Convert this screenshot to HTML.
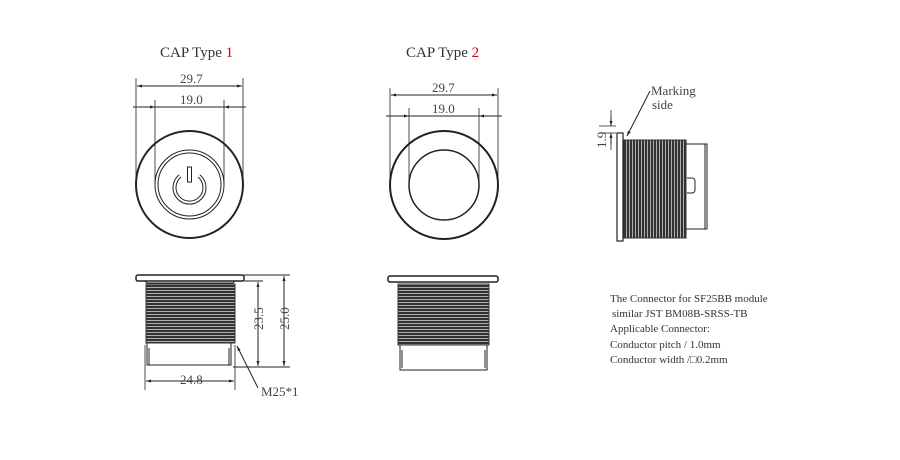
<!DOCTYPE html>
<html><head><style>body{margin:0;background:#fff}svg{display:block}</style></head><body>
<svg width="900" height="460" viewBox="0 0 900 460" xmlns="http://www.w3.org/2000/svg" font-family="Liberation Serif, serif">
<defs>
<marker id="a" viewBox="0 0 10 10" refX="10" refY="5" markerWidth="8" markerHeight="5" orient="auto-start-reverse"><path d="M0,2L10,5L0,8z" fill="#222"/></marker>
<pattern id="th" width="6" height="3" patternUnits="userSpaceOnUse"><rect width="6" height="3" fill="#bbb"/><rect y="0" width="6" height="2.1" fill="#333"/></pattern>
<pattern id="tv" width="3" height="6" patternUnits="userSpaceOnUse"><rect width="3" height="6" fill="#bbb"/><rect x="0" width="2.1" height="6" fill="#333"/></pattern>
</defs>
<g fill="#333" font-size="15"><text x="160" y="57">CAP Type <tspan fill="#c00">1</tspan></text>
<text x="406" y="57">CAP Type <tspan fill="#c00">2</tspan></text></g>
<g stroke="#222" fill="none" stroke-width="1">
<circle cx="189.5" cy="184.5" r="53.5" stroke-width="2"/>
<circle cx="189.5" cy="184.5" r="34.5" stroke-width="1"/>
<circle cx="189.5" cy="184.5" r="31.5" stroke-width="1"/>
<path d="M180,176 A15,15 0 1 0 199,176" stroke-width="4"/>
<path d="M180,176 A15,15 0 1 0 199,176" stroke="#fff" stroke-width="2"/>
<rect x="187.5" y="167" width="4" height="15" fill="#fff" stroke-width="1"/>
<path d="M136,78V184M243,78V184M155,100V184M224,100V184" stroke-width=".8"/>
<path d="M137,86H242" marker-start="url(#a)" marker-end="url(#a)"/>
<path d="M133,107H246"/><path d="M144,107H155" marker-end="url(#a)"/><path d="M235,107H224" marker-end="url(#a)"/>
<circle cx="444" cy="185" r="54" stroke-width="2"/>
<circle cx="444" cy="185" r="35" stroke-width="1.5"/>
<path d="M390,88V185M498,88V185M409,108V185M479,108V185" stroke-width=".8"/>
<path d="M391,95H497" marker-start="url(#a)" marker-end="url(#a)"/>
<path d="M386,116H502"/><path d="M398,116H409" marker-end="url(#a)"/><path d="M490,116H479" marker-end="url(#a)"/>
<rect x="136" y="275" width="108" height="6" rx="2" stroke-width="1.5"/>
<path d="M145,281L147,283H233L235,281"/>
<rect x="146" y="284" width="89" height="59" fill="url(#th)" stroke="#333"/>
<path d="M147,343V365H231V343M149,348V365M229,348V365"/>
<path d="M145,345V390M235,345V390" stroke-width=".8"/>
<path d="M146,381H234" marker-start="url(#a)" marker-end="url(#a)"/>
<path d="M244,281H263M244,275H290M233,367H290"/>
<path d="M258,282V366" marker-start="url(#a)" marker-end="url(#a)"/>
<path d="M284,276V366" marker-start="url(#a)" marker-end="url(#a)"/>
<path d="M258,388L237,346" marker-end="url(#a)"/>
<rect x="388" y="276" width="110" height="6" rx="2" stroke-width="1.5"/>
<rect x="398" y="284" width="91" height="61" fill="url(#th)" stroke="#333"/>
<path d="M400,345V370H487V345M402,350V368M485,350V368"/>
<rect x="617" y="133" width="6" height="108" stroke-width="1.2"/>
<rect x="624" y="140" width="62" height="98" fill="url(#tv)" stroke="#333"/>
<path d="M686,144H707V229H686M705,144V229"/>
<path d="M687,178H692A3,3 0 0 1 695,181V190A3,3 0 0 1 692,193H687"/>
<path d="M599,126H616M599,133H616M611,110V126M611,150V133" stroke-width=".8"/>
<path d="M611,116V126" marker-end="url(#a)"/><path d="M611,144V133" marker-end="url(#a)"/>
<path d="M650,91L627,136" marker-end="url(#a)"/>
</g>
<g fill="#444" font-size="13">
<text x="180" y="83">29.7</text><text x="180" y="104">19.0</text>
<text x="432" y="92">29.7</text><text x="432" y="113">19.0</text>
<text x="180" y="384">24.8</text>
<text transform="translate(263,330) rotate(-90)">23.5</text>
<text transform="translate(289,330) rotate(-90)">25.0</text>
<text x="261" y="396">M25*1</text>
<text transform="translate(606,148) rotate(-90)">1.9</text>
<text x="651" y="95">Marking</text><text x="652" y="109">side</text>
</g>
<g fill="#333" font-size="11">
<text x="610" y="302">The Connector for SF25BB module</text>
<text x="612" y="317">similar JST BM08B-SRSS-TB</text>
<text x="610" y="332">Applicable Connector:</text>
<text x="610" y="348">Conductor pitch / 1.0mm</text>
<text x="610" y="363">Conductor width /□0.2mm</text>
</g>
</svg>
</body></html>
